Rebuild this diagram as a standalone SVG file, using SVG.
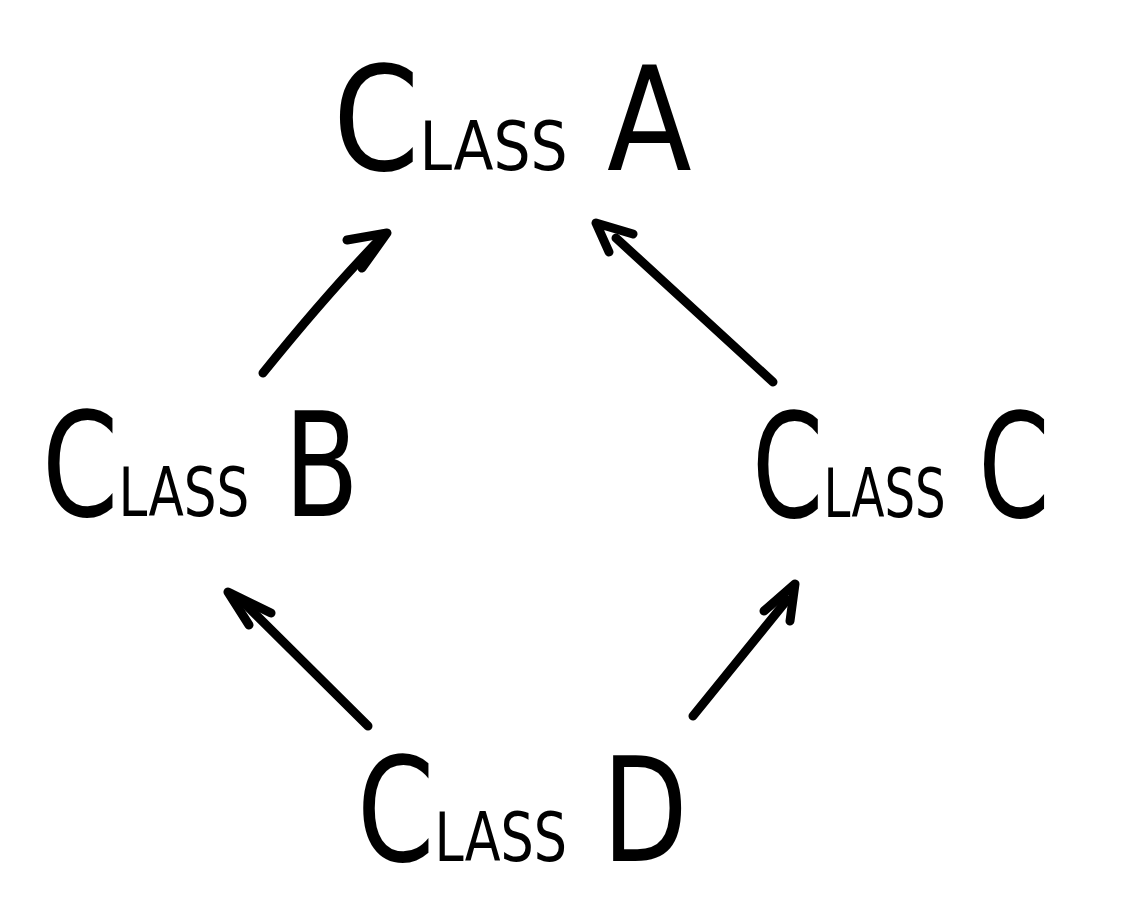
<svg xmlns="http://www.w3.org/2000/svg" width="1121" height="917" viewBox="0 0 1121 917">
  <style>
    .lbl { font-family: "DejaVu Sans", "Liberation Sans", sans-serif; fill: #000; }
    .big { font-size: 144px; }
    .sm { font-size: 68px; }
    .edge { fill: none; stroke: #000; stroke-width: 9; stroke-linecap: round; stroke-linejoin: round; }
  </style>
  <rect width="1121" height="917" fill="#fff"/>
  <g id="nodeA">
    <text class="lbl" transform="translate(333,170) scale(0.86,1)"><tspan class="big">C</tspan><tspan class="sm">LASS</tspan><tspan class="big"> A</tspan></text>
  </g>
  <g id="nodeB">
    <text class="lbl" transform="translate(42,516) scale(0.76,1)"><tspan class="big">C</tspan><tspan class="sm">LASS</tspan><tspan class="big"> B</tspan></text>
  </g>
  <g id="nodeC">
    <text class="lbl" transform="translate(752,517) scale(0.71,1)"><tspan class="big">C</tspan><tspan class="sm">LASS</tspan><tspan class="big"> C</tspan></text>
  </g>
  <g id="nodeD">
    <text class="lbl" transform="translate(357,861) scale(0.77,1)"><tspan class="big">C</tspan><tspan class="sm">LASS</tspan><tspan class="big"> D</tspan></text>
  </g>
  <g id="connectors">
    <path class="edge" d="M263,373 Q330,290 385,234"/>
    <path class="edge" d="M347,240 L387,233 L362,268"/>
    <path class="edge" d="M773,382 L616,238"/>
    <path class="edge" d="M633,234 L596,223 L609,252"/>
    <path class="edge" d="M368,726 L243,602"/>
    <path class="edge" d="M271,613 L228,592 L249,625"/>
    <path class="edge" d="M693,716 L787,600"/>
    <path class="edge" d="M764,611 L795,584 L790,621"/>
  </g>
</svg>
